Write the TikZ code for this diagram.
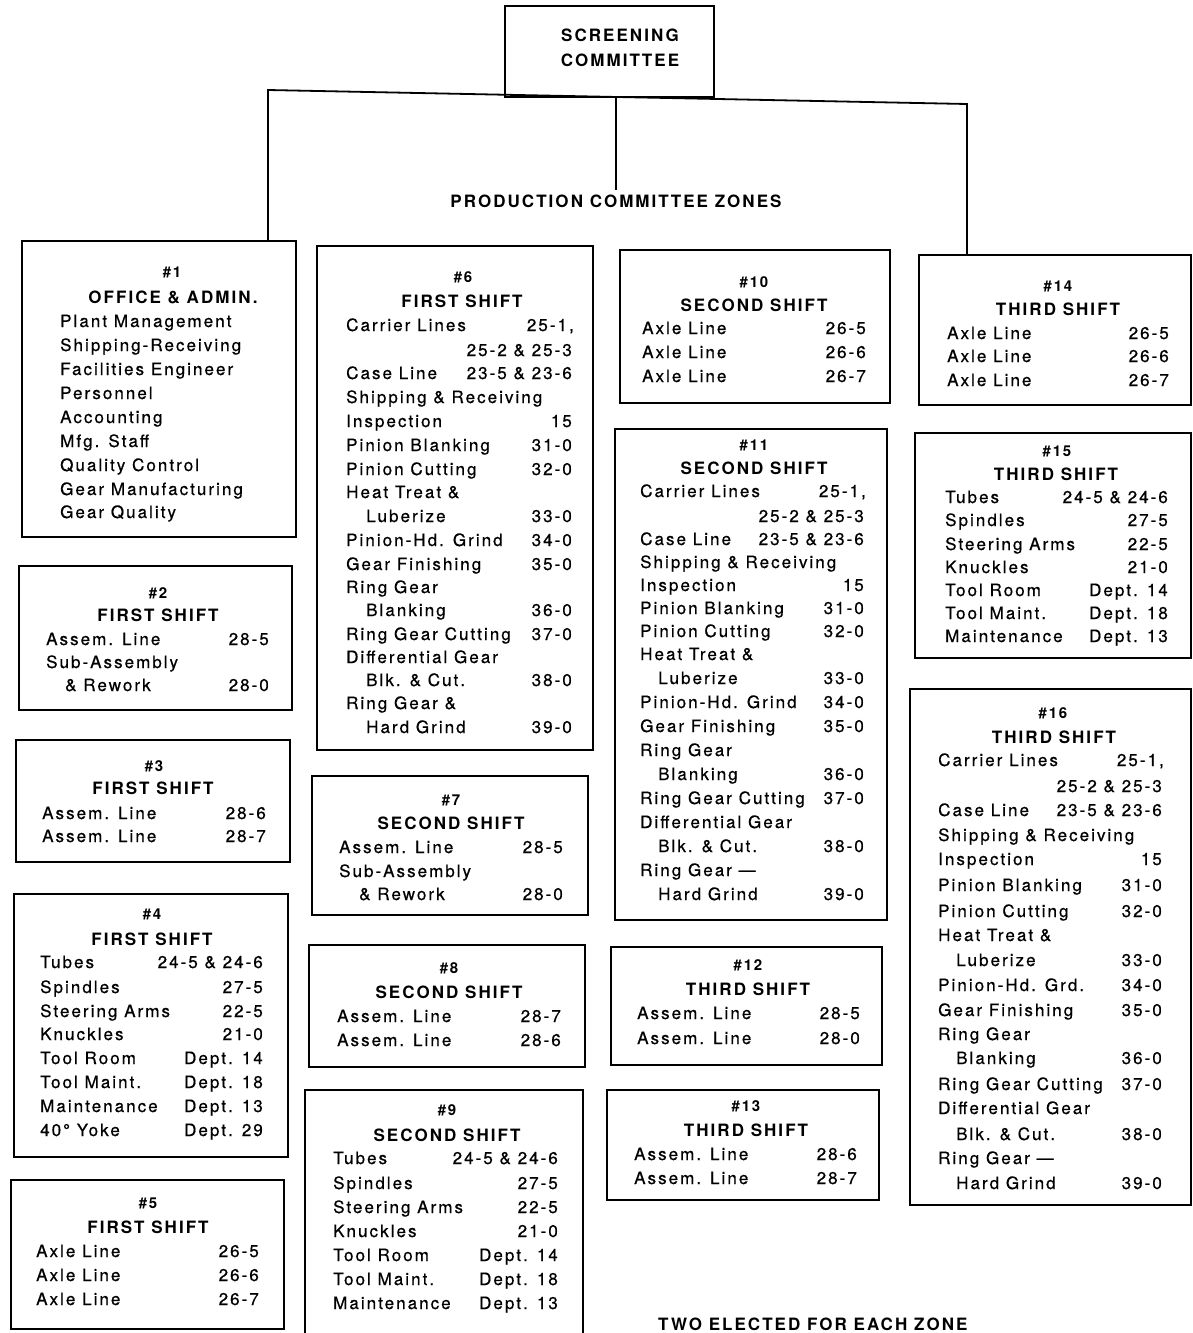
\documentclass[tikz,border=0pt]{standalone}
\usepackage{fontspec}
\newfontfamily\itfont[LetterSpace=12,FakeBold=0.6]{TeX Gyre Heros}
\newfontfamily\hbfont[LetterSpace=12]{TeX Gyre Heros}
\newcounter{tn}
\tikzset{
  zbox/.style={draw, line width=1.6pt, inner sep=0pt, outer sep=0pt},
  itm/.style={inner sep=0pt, font=\itfont\fontsize{17}{20}\selectfont},
  hdr/.style={inner sep=0pt, font=\hbfont\bfseries\fontsize{17}{20}\selectfont},
  num/.style={inner sep=0pt, font=\hbfont\bfseries\fontsize{15}{18}\selectfont},
  conn/.style={line width=1.8pt}
}
\newcommand\zb[5]{%
  \pgfmathsetmacro\zw{#4-#2}\pgfmathsetmacro\zh{#5-#3}%
  \node[zbox,minimum width=\zw pt,minimum height=\zh pt] (#1) at ({(#2+#4)/2},{(#3+#5)/2}) {};}
\newcommand\itL[3]{\stepcounter{tn}\node[itm,anchor=base west] (t\arabic{tn}) at (#1,#2+6) {#3};}
\newcommand\itR[3]{\stepcounter{tn}\node[itm,anchor=base east] (t\arabic{tn}) at (#1,#2+6) {#3};}
\newcommand\hdC[3]{\stepcounter{tn}\node[hdr,anchor=base] (t\arabic{tn}) at (#1,#2+6) {#3};}
\newcommand\nmC[3]{\stepcounter{tn}\node[num,anchor=base] (t\arabic{tn}) at (#1,#2+5) {#3};}
\begin{document}
\begin{tikzpicture}[x=1pt,y=-1pt]
\useasboundingbox (0,0) rectangle (1193,1333);
\clip (0,0) rectangle (1193,1333);
% screening committee
\zb{scr}{505}{6}{714}{97}
\hdC{620}{35}{SCREENING}
\hdC{620}{60}{COMMITTEE}
\node[hdr,anchor=base,inner sep=4pt] (zones) at (616,207) {PRODUCTION COMMITTEE ZONES};
% boxes
\zb{z1}{22}{241}{296}{537}
\zb{z2}{19}{566}{292}{710}
\zb{z3}{16}{740}{290}{862}
\zb{z4}{14}{894}{288}{1157}
\zb{z5}{11}{1180}{284}{1329}
\zb{z6}{317}{246}{593}{750}
\zb{z7}{312}{776}{588}{915}
\zb{z8}{309}{945}{585}{1067}
\zb{z9}{305}{1090}{583}{1360}
\zb{z10}{620}{250}{890}{403}
\zb{z11}{615}{429}{887}{920}
\zb{z12}{611}{947}{882}{1065}
\zb{z13}{607}{1090}{879}{1200}
\zb{z14}{919}{255}{1191}{405}
\zb{z15}{915}{433}{1191}{658}
\zb{z16}{910}{689}{1191}{1205}
% connectors
\coordinate (tL) at (268,90);
\coordinate (tR) at (967,104);
\draw[conn] (tL |- z1.north) -- (tL) -- (tR) -- (tR |- z14.north);
\draw[conn] (scr.south -| zones.north) -- (zones.north);
% #1
\nmC{172}{272}{\#1}
\hdC{173}{297}{OFFICE \& ADMIN.}
\itL{60}{321}{Plant Management}
\itL{60}{345}{Shipping-Receiving}
\itL{60}{369}{Facilities Engineer}
\itL{60}{393}{Personnel}
\itL{60}{417}{Accounting}
\itL{60}{441}{Mfg. Staff}
\itL{60}{465}{Quality Control}
\itL{60}{489}{Gear Manufacturing}
\itL{60}{512}{Gear Quality}
% #2
\nmC{158}{593}{\#2}
\hdC{158}{615}{FIRST SHIFT}
\itL{46}{639}{Assem. Line}\itR{269}{639}{28-5}
\itL{46}{662}{Sub-Assembly}
\itL{65}{685}{\& Rework}\itR{269}{685}{28-0}
% #3
\nmC{154}{766}{\#3}
\hdC{153}{788}{FIRST SHIFT}
\itL{42}{813}{Assem. Line}\itR{266}{813}{28-6}
\itL{42}{836}{Assem. Line}\itR{266}{836}{28-7}
% #4
\nmC{152}{914}{\#4}
\hdC{152}{939}{FIRST SHIFT}
\itL{40}{962}{Tubes}\itR{263}{962}{24-5 \& 24-6}
\itL{40}{987}{Spindles}\itR{263}{987}{27-5}
\itL{40}{1011}{Steering Arms}\itR{263}{1011}{22-5}
\itL{40}{1034}{Knuckles}\itR{263}{1034}{21-0}
\itL{40}{1058}{Tool Room}\itR{263}{1058}{Dept. 14}
\itL{40}{1082}{Tool Maint.}\itR{263}{1082}{Dept. 18}
\itL{40}{1106}{Maintenance}\itR{263}{1106}{Dept. 13}
\itL{40}{1130}{40° Yoke}\itR{263}{1130}{Dept. 29}
% #5
\nmC{148}{1203}{\#5}
\hdC{148}{1227}{FIRST SHIFT}
\itL{36}{1251}{Axle Line}\itR{259}{1251}{26-5}
\itL{36}{1275}{Axle Line}\itR{259}{1275}{26-6}
\itL{36}{1299}{Axle Line}\itR{259}{1299}{26-7}
% #6
\nmC{463}{277}{\#6}
\hdC{462}{301}{FIRST SHIFT}
\itL{346}{325}{Carrier Lines}\itR{574}{325}{25-1,}
\itR{572}{350}{25-2 \& 25-3}
\itL{346}{373}{Case Line}\itR{572}{373}{23-5 \& 23-6}
\itL{346}{397}{Shipping \& Receiving}
\itL{346}{421}{Inspection}\itR{572}{421}{15}
\itL{346}{445}{Pinion Blanking}\itR{572}{445}{31-0}
\itL{346}{469}{Pinion Cutting}\itR{572}{469}{32-0}
\itL{346}{492}{Heat Treat \&}
\itL{366}{516}{Luberize}\itR{572}{516}{33-0}
\itL{346}{540}{Pinion-Hd. Grind}\itR{572}{540}{34-0}
\itL{346}{564}{Gear Finishing}\itR{572}{564}{35-0}
\itL{346}{587}{Ring Gear}
\itL{366}{610}{Blanking}\itR{572}{610}{36-0}
\itL{346}{634}{Ring Gear Cutting}\itR{572}{634}{37-0}
\itL{346}{657}{Differential Gear}
\itL{366}{680}{Blk. \& Cut.}\itR{572}{680}{38-0}
\itL{346}{703}{Ring Gear \&}
\itL{366}{727}{Hard Grind}\itR{572}{727}{39-0}
% #7
\nmC{451}{800}{\#7}
\hdC{451}{823}{SECOND SHIFT}
\itL{339}{847}{Assem. Line}\itR{563}{847}{28-5}
\itL{339}{871}{Sub-Assembly}
\itL{359}{894}{\& Rework}\itR{563}{894}{28-0}
% #8
\nmC{449}{968}{\#8}
\hdC{449}{992}{SECOND SHIFT}
\itL{337}{1016}{Assem. Line}\itR{561}{1016}{28-7}
\itL{337}{1040}{Assem. Line}\itR{561}{1040}{28-6}
% #9
\nmC{447}{1110}{\#9}
\hdC{447}{1135}{SECOND SHIFT}
\itL{333}{1158}{Tubes}\itR{558}{1158}{24-5 \& 24-6}
\itL{333}{1183}{Spindles}\itR{558}{1183}{27-5}
\itL{333}{1207}{Steering Arms}\itR{558}{1207}{22-5}
\itL{333}{1231}{Knuckles}\itR{558}{1231}{21-0}
\itL{333}{1255}{Tool Room}\itR{558}{1255}{Dept. 14}
\itL{333}{1279}{Tool Maint.}\itR{558}{1279}{Dept. 18}
\itL{333}{1303}{Maintenance}\itR{558}{1303}{Dept. 13}
% #10
\nmC{754}{282}{\#10}
\hdC{754}{305}{SECOND SHIFT}
\itL{642}{328}{Axle Line}\itR{866}{328}{26-5}
\itL{642}{352}{Axle Line}\itR{866}{352}{26-6}
\itL{642}{376}{Axle Line}\itR{866}{376}{26-7}
% #11
\nmC{754}{445}{\#11}
\hdC{754}{468}{SECOND SHIFT}
\itL{640}{491}{Carrier Lines}\itR{866}{491}{25-1,}
\itR{864}{516}{25-2 \& 25-3}
\itL{640}{539}{Case Line}\itR{864}{539}{23-5 \& 23-6}
\itL{640}{562}{Shipping \& Receiving}
\itL{640}{585}{Inspection}\itR{864}{585}{15}
\itL{640}{608}{Pinion Blanking}\itR{864}{608}{31-0}
\itL{640}{631}{Pinion Cutting}\itR{864}{631}{32-0}
\itL{640}{654}{Heat Treat \&}
\itL{658}{678}{Luberize}\itR{864}{678}{33-0}
\itL{640}{702}{Pinion-Hd. Grind}\itR{864}{702}{34-0}
\itL{640}{726}{Gear Finishing}\itR{864}{726}{35-0}
\itL{640}{750}{Ring Gear}
\itL{658}{774}{Blanking}\itR{864}{774}{36-0}
\itL{640}{798}{Ring Gear Cutting}\itR{864}{798}{37-0}
\itL{640}{822}{Differential Gear}
\itL{658}{846}{Blk. \& Cut.}\itR{864}{846}{38-0}
\itL{640}{870}{Ring Gear —}
\itL{658}{894}{Hard Grind}\itR{864}{894}{39-0}
% #12
\nmC{748}{965}{\#12}
\hdC{748}{989}{THIRD SHIFT}
\itL{637}{1013}{Assem. Line}\itR{860}{1013}{28-5}
\itL{637}{1038}{Assem. Line}\itR{860}{1038}{28-0}
% #13
\nmC{746}{1106}{\#13}
\hdC{746}{1130}{THIRD SHIFT}
\itL{634}{1154}{Assem. Line}\itR{857}{1154}{28-6}
\itL{634}{1178}{Assem. Line}\itR{857}{1178}{28-7}
% #14
\nmC{1058}{286}{\#14}
\hdC{1058}{309}{THIRD SHIFT}
\itL{947}{333}{Axle Line}\itR{1169}{333}{26-5}
\itL{947}{356}{Axle Line}\itR{1169}{356}{26-6}
\itL{947}{380}{Axle Line}\itR{1169}{380}{26-7}
% #15
\nmC{1057}{451}{\#15}
\hdC{1056}{474}{THIRD SHIFT}
\itL{945}{497}{Tubes}\itR{1168}{497}{24-5 \& 24-6}
\itL{945}{520}{Spindles}\itR{1168}{520}{27-5}
\itL{945}{544}{Steering Arms}\itR{1168}{544}{22-5}
\itL{945}{567}{Knuckles}\itR{1168}{567}{21-0}
\itL{945}{590}{Tool Room}\itR{1168}{590}{Dept. 14}
\itL{945}{613}{Tool Maint.}\itR{1168}{613}{Dept. 18}
\itL{945}{636}{Maintenance}\itR{1168}{636}{Dept. 13}
% #16
\nmC{1053}{713}{\#16}
\hdC{1054}{737}{THIRD SHIFT}
\itL{938}{760}{Carrier Lines}\itR{1164}{760}{25-1,}
\itR{1162}{786}{25-2 \& 25-3}
\itL{938}{810}{Case Line}\itR{1162}{810}{23-5 \& 23-6}
\itL{938}{835}{Shipping \& Receiving}
\itL{938}{859}{Inspection}\itR{1162}{859}{15}
\itL{938}{885}{Pinion Blanking}\itR{1162}{885}{31-0}
\itL{938}{911}{Pinion Cutting}\itR{1162}{911}{32-0}
\itL{938}{935}{Heat Treat \&}
\itL{956}{960}{Luberize}\itR{1162}{960}{33-0}
\itL{938}{985}{Pinion-Hd. Grd.}\itR{1162}{985}{34-0}
\itL{938}{1010}{Gear Finishing}\itR{1162}{1010}{35-0}
\itL{938}{1034}{Ring Gear}
\itL{956}{1058}{Blanking}\itR{1162}{1058}{36-0}
\itL{938}{1084}{Ring Gear Cutting}\itR{1162}{1084}{37-0}
\itL{938}{1108}{Differential Gear}
\itL{956}{1134}{Blk. \& Cut.}\itR{1162}{1134}{38-0}
\itL{938}{1158}{Ring Gear —}
\itL{956}{1183}{Hard Grind}\itR{1162}{1183}{39-0}
% bottom note
\node[hdr,anchor=base west] (note) at (658,1330) {TWO ELECTED FOR EACH ZONE};
\end{tikzpicture}
\end{document}
